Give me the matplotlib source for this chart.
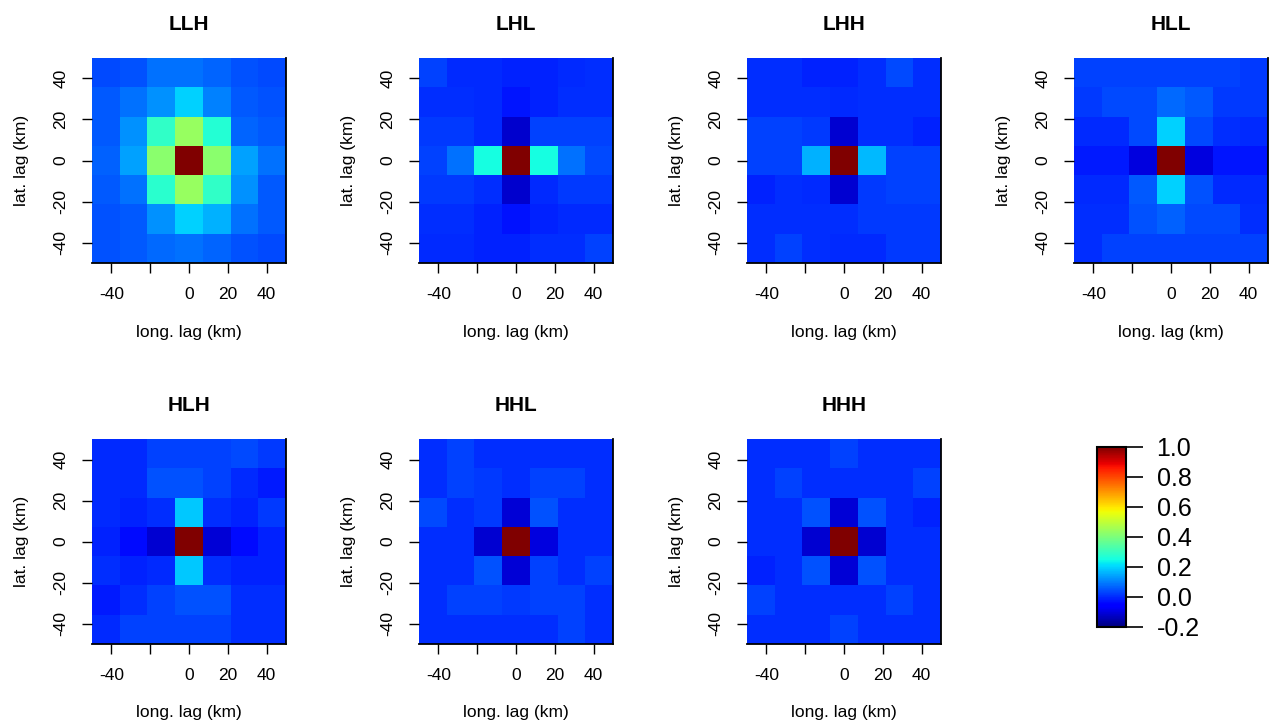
import numpy as np
import matplotlib
matplotlib.use("Agg")
import matplotlib.pyplot as plt

plt.rcParams['font.family'] = ['Liberation Sans', 'DejaVu Sans']
plt.rcParams['axes.unicode_minus'] = False

# lag grid (km), 7 x 7 cells
lags = np.linspace(-300 / 7, 300 / 7, 7)
titles = ["LLH", "LHL", "LHH", "HLL", "HLH", "HHL", "HHH"]

# rows listed from top (lat +43 km) to bottom (lat -43 km)
llh = [[0.035, 0.045, 0.082, 0.082, 0.068, 0.045, 0.035],
       [0.054, 0.082, 0.120, 0.195, 0.100, 0.054, 0.045],
       [0.054, 0.120, 0.290, 0.440, 0.270, 0.068, 0.054],
       [0.063, 0.140, 0.420, 1.000, 0.420, 0.140, 0.082],
       [0.054, 0.082, 0.280, 0.440, 0.290, 0.120, 0.054],
       [0.045, 0.054, 0.120, 0.195, 0.157, 0.082, 0.054],
       [0.045, 0.054, 0.072, 0.082, 0.068, 0.045, 0.035]]

lhl = [[0.025, -0.003, -0.003, -0.012, -0.012, -0.003, 0.006],
       [0.006, 0.006, -0.003, -0.025, -0.012, 0.006, 0.006],
       [0.016, 0.016, -0.003, -0.120, 0.025, 0.025, 0.025],
       [0.025, 0.082, 0.250, 1.000, 0.250, 0.082, 0.035],
       [0.016, 0.016, 0.006, -0.120, -0.003, 0.016, 0.016],
       [0.006, 0.006, -0.012, -0.030, -0.012, -0.003, -0.003],
       [-0.003, -0.003, -0.012, -0.012, 0.006, 0.006, 0.025]]

lhh = [[0.006, 0.006, -0.012, -0.012, 0.006, 0.035, 0.006],
       [0.006, 0.006, 0.006, -0.003, 0.006, 0.006, 0.006],
       [0.025, 0.025, 0.016, -0.115, 0.006, 0.006, -0.012],
       [0.025, 0.025, 0.157, 1.000, 0.166, 0.025, 0.025],
       [-0.012, 0.006, -0.003, -0.115, 0.016, 0.025, 0.025],
       [0.006, 0.006, 0.006, 0.006, 0.016, 0.016, 0.016],
       [0.006, 0.025, 0.006, -0.003, -0.003, 0.016, 0.016]]

hll = [[0.025, 0.025, 0.025, 0.025, 0.025, 0.025, 0.016],
       [0.016, 0.035, 0.035, 0.072, 0.054, 0.016, 0.016],
       [-0.003, -0.003, 0.035, 0.195, 0.035, 0.006, -0.003],
       [-0.020, -0.020, -0.100, 1.000, -0.100, -0.025, -0.025],
       [-0.003, -0.003, 0.054, 0.195, 0.045, -0.003, -0.003],
       [0.006, 0.006, 0.045, 0.063, 0.035, 0.035, 0.006],
       [0.006, 0.025, 0.025, 0.025, 0.025, 0.025, 0.025]]

hlh = [[-0.003, -0.003, 0.025, 0.025, 0.025, 0.035, 0.016],
       [-0.003, -0.003, 0.045, 0.045, 0.025, -0.003, -0.018],
       [-0.003, -0.012, 0.006, 0.185, 0.006, -0.012, 0.016],
       [-0.012, -0.040, -0.115, 1.000, -0.110, -0.040, -0.012],
       [0.006, -0.012, -0.003, 0.185, 0.006, -0.012, -0.012],
       [-0.018, 0.006, 0.025, 0.045, 0.045, 0.006, 0.006],
       [-0.003, 0.025, 0.025, 0.025, 0.025, 0.006, 0.006]]

hhl = [[0.006, 0.025, 0.006, 0.006, 0.006, 0.006, 0.006],
       [0.006, 0.025, 0.016, 0.006, 0.025, 0.025, 0.006],
       [0.035, 0.006, 0.016, -0.110, 0.045, 0.006, 0.006],
       [0.006, 0.006, -0.115, 1.000, -0.100, 0.006, 0.006],
       [0.006, 0.006, 0.045, -0.110, 0.025, 0.006, 0.025],
       [0.006, 0.025, 0.025, 0.016, 0.025, 0.025, 0.006],
       [0.006, 0.006, 0.006, 0.006, 0.006, 0.025, 0.006]]

hhh = [[0.006, 0.006, 0.006, 0.025, 0.006, 0.006, 0.006],
       [0.006, 0.025, 0.006, 0.006, 0.006, 0.006, 0.025],
       [0.006, 0.006, 0.045, -0.110, 0.045, 0.006, -0.012],
       [0.006, 0.006, -0.115, 1.000, -0.115, 0.006, 0.006],
       [-0.012, 0.006, 0.045, -0.110, 0.045, 0.006, 0.006],
       [0.025, 0.006, 0.006, 0.006, 0.006, 0.025, 0.006],
       [0.006, 0.006, 0.006, 0.025, 0.006, 0.006, 0.006]]

panels = [llh, lhl, lhh, hll, hlh, hhl, hhh]
cbar_ticks = [-0.2, 0.0, 0.2, 0.4, 0.6, 0.8, 1.0]

W, H = 1269, 722
fig = plt.figure(figsize=(W / 100, H / 100), dpi=100)


def px_axes(x0, y0, w, h):
    return fig.add_axes([x0 / W, 1 - (y0 + h) / H, w / W, h / H])


col_x = [92, 419, 747, 1074]
row_y = [58, 439]
aw, ah = 194, 205

mesh = None
for i, (name, data) in enumerate(zip(titles, panels)):
    r, c = divmod(i, 4)
    ax = px_axes(col_x[c], row_y[r], aw, ah)
    z = np.flipud(np.array(data))
    mesh = ax.pcolormesh(lags, lags, z, cmap="jet", vmin=-0.2, vmax=1.0,
                         shading="nearest")
    ax.set_xlim(-50, 50)
    ax.set_ylim(-50, 50)
    ax.set_xticks([-40, -20, 0, 20, 40])
    ax.set_xticklabels(["-40", "", "0", "20", "40"])
    ax.set_yticks([-40, -20, 0, 20, 40])
    ax.tick_params(axis="both", length=7, width=1, labelsize=12.5, pad=10)
    ax.tick_params(axis="y", labelrotation=90)
    for lab in ax.get_yticklabels():
        lab.set_va("center")
    ax.spines["top"].set_visible(False)
    ax.spines["left"].set_visible(False)
    ax.spines["right"].set_linewidth(1.3)
    ax.spines["bottom"].set_linewidth(1.3)
    ax.set_title(name, fontsize=15, fontweight="bold", pad=20)
    ax.set_xlabel("long. lag (km)", fontsize=12.5)
    ax.set_ylabel("lat. lag (km)", fontsize=12.5)
    ax.xaxis.set_label_coords(0.5, -0.30)
    ax.yaxis.set_label_coords(-0.325, 0.5)

cax = px_axes(1097, 447, 29, 180)
cb = fig.colorbar(mesh, cax=cax, ticks=cbar_ticks)
cb.ax.set_yticklabels([f"{t:.1f}" for t in cbar_ticks])
cb.ax.tick_params(length=12, width=1.2, labelsize=18, pad=10)
cb.outline.set_linewidth(1.5)

fig.savefig("out.png", dpi=100)
